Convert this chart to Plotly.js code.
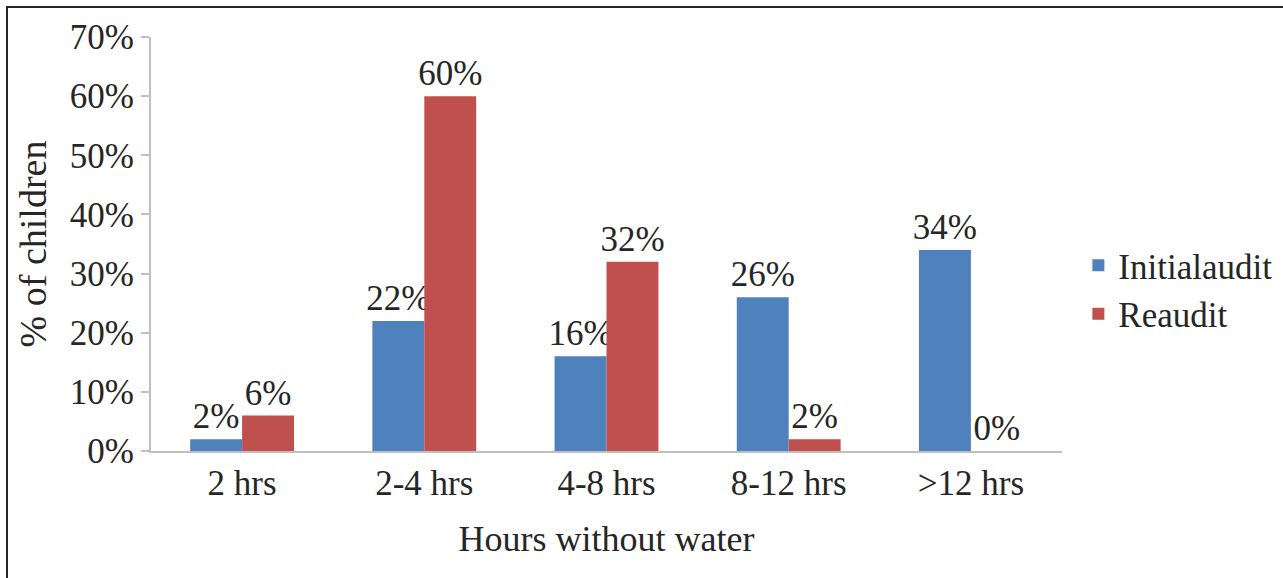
<!DOCTYPE html>
<html>
<head>
<meta charset="utf-8">
<script src="https://cdn.plot.ly/plotly-3.0.1.min.js"></script>
<style>
  html, body { margin: 0; padding: 0; background: #ffffff; }
  #wrap { position: relative; width: 1283px; height: 578px; overflow: hidden; }
  #frame { position: absolute; left: 6px; top: 6px; width: 1290px; height: 600px;
           border-top: 2px solid #262626; border-left: 2px solid #262626; pointer-events: none; }
  #chart { position: absolute; left: 0; top: 0; width: 1283px; height: 578px; }
</style>
</head>
<body>
<div id="wrap">
  <div id="chart"></div>
  <div id="frame"></div>
</div>
<script>
const categories = ["2 hrs", "2-4 hrs", "4-8 hrs", "8-12 hrs", ">12 hrs"];
const initialAudit = [2, 22, 16, 26, 34];
const reaudit = [6, 60, 32, 2, 0];
const seriesNames = ["Initialaudit", "Reaudit"];
const yTicks = [0, 10, 20, 30, 40, 50, 60, 70];

const FONT = "Times New Roman, Liberation Serif, DejaVu Serif, serif";
const TXT = "#262626";
const FS = 35;

function barTrace(name, values, color) {
  return {
    type: "bar",
    name: name,
    x: categories,
    y: values,
    text: values.map(v => v + "%"),
    texttemplate: "%{text}",
    textposition: "outside",
    cliponaxis: false,
    constraintext: "none",
    textfont: { family: FONT, size: FS, color: TXT },
    marker: { color: color }
  };
}

const data = [
  barTrace(seriesNames[0], initialAudit, "#4F81BD"),
  barTrace(seriesNames[1], reaudit, "#C0504D")
];

const layout = {
  width: 1283,
  height: 578,
  margin: { l: 151, r: 221, t: 37, b: 127, autoexpand: false },
  paper_bgcolor: "#ffffff",
  plot_bgcolor: "#ffffff",
  barmode: "group",
  bargap: 0.43,
  bargroupgap: 0,
  font: { family: FONT, size: FS, color: TXT },
  showlegend: true,
  legend: {
    xref: "container", x: 0.8405, xanchor: "left",
    yref: "paper", y: 0.39, yanchor: "middle",
    font: { family: FONT, size: FS, color: TXT },
    bgcolor: "rgba(0,0,0,0)",
    tracegroupgap: 0
  },
  xaxis: {
    type: "category",
    showline: true,
    linecolor: "#BFBFBF",
    linewidth: 2,
    ticks: "",
    showgrid: false,
    zeroline: false,
    tickfont: { family: FONT, size: FS, color: TXT },
    title: { text: "Hours without water", font: { family: FONT, size: 36, color: TXT }, standoff: 24 }
  },
  yaxis: {
    range: [0, 70],
    tickvals: yTicks,
    ticktext: yTicks.map(v => v + "%"),
    showline: true,
    linecolor: "#BFBFBF",
    linewidth: 2,
    ticks: "outside",
    ticklen: 8,
    tickcolor: "#BFBFBF",
    tickwidth: 2,
    showgrid: false,
    zeroline: false,
    tickfont: { family: FONT, size: FS, color: TXT },
    title: { text: "% of children", font: { family: FONT, size: 38, color: TXT }, standoff: 12 }
  }
};

Plotly.newPlot("chart", data, layout, { displayModeBar: false, staticPlot: true });
</script>
</body>
</html>
